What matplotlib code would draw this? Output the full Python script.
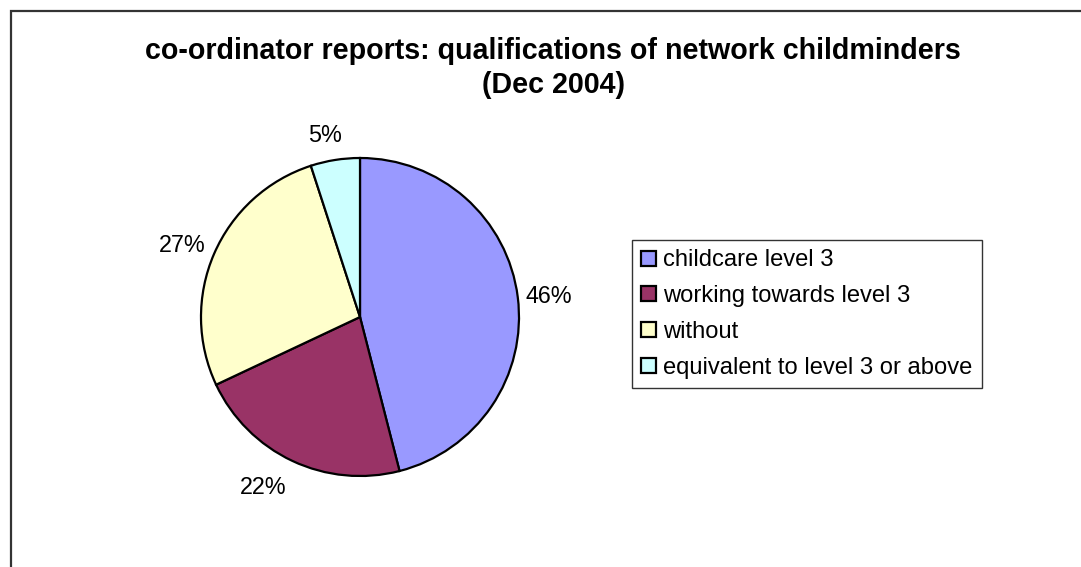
import matplotlib
matplotlib.use("Agg")
import matplotlib.pyplot as plt
from matplotlib.patches import Rectangle

# Data
categories = ["childcare level 3", "working towards level 3", "without",
              "equivalent to level 3 or above"]
shares = [46, 22, 27, 5]
colors = ["#9999FF", "#993366", "#FFFFCC", "#CCFFFF"]
# label anchor points, in pie-radius units
label_xy = [(1.19, 0.13), (-0.61, -1.07), (-1.12, 0.45), (-0.22, 1.14)]

plt.rcParams["font.family"] = ["Liberation Sans", "DejaVu Sans"]

W, H = 1081, 567
fig = plt.figure(figsize=(W / 100, H / 100), dpi=100)

# chart area border
fig.patches.append(Rectangle((11 / W, -0.05), 1.2, 1 - 11 / H + 0.05,
                             transform=fig.transFigure, fill=False,
                             edgecolor="#333333", linewidth=1.6))

fig.text(553 / W, 1 - 68 / H,
         "co-ordinator reports: qualifications of network childminders\n(Dec 2004)",
         ha="center", va="center", fontsize=20.6, fontweight="bold",
         linespacing=1.28)

cx, cy, r = 360, 317, 159
ax = fig.add_axes([(cx - r) / W, (H - cy - r) / H, 2 * r / W, 2 * r / H])
wedges, _ = ax.pie(shares, colors=colors, startangle=90, counterclock=False,
                   radius=1, wedgeprops=dict(edgecolor="black", linewidth=1.6))
ax.set_xlim(-1, 1)
ax.set_ylim(-1, 1)
ax.set_aspect("auto")
ax.axis("off")

for v, (lx, ly) in zip(shares, label_xy):
    ax.text(lx, ly, f"{v}%", ha="center", va="center", fontsize=16.8,
            clip_on=False)

leg = fig.legend(wedges, categories, loc="upper left",
                 bbox_to_anchor=(632 / W, 1 - 240 / H),
                 fontsize=17.1, frameon=True, fancybox=False,
                 edgecolor="black", handlelength=0.6, handleheight=0.6,
                 handletextpad=0.3, labelspacing=0.58, borderpad=0.4,
                 borderaxespad=0)
leg.get_frame().set_linewidth(1.0)
for h in leg.legend_handles:
    h.set_edgecolor("black")
    h.set_linewidth(1.6)

fig.savefig("out.png", dpi=100)
